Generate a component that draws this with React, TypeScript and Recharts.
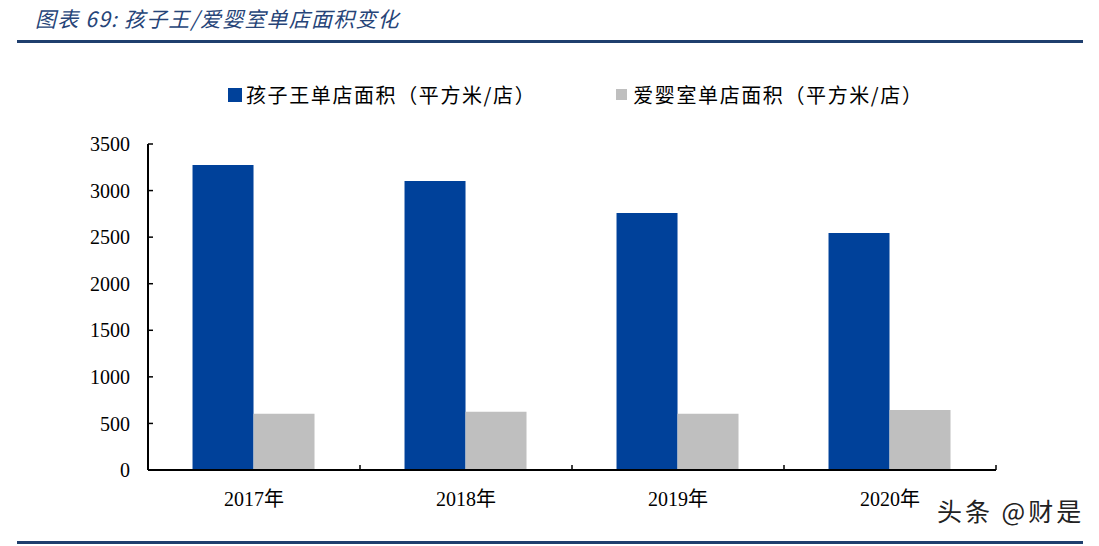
import { BarChart, Bar, XAxis, YAxis } from 'recharts';

// 单店面积（平方米/店）
const years = ['2017年', '2018年', '2019年', '2020年'];
const kidswantArea = [3275, 3103, 2760, 2545];
const aiyingshiArea = [604, 625, 604, 644];
const yTicks = [0, 500, 1000, 1500, 2000, 2500, 3000, 3500];

const seriesNames = ['孩子王单店面积（平方米/店）', '爱婴室单店面积（平方米/店）'];
const seriesColors = ['#00419A', '#BFBFBF'];

const data = years.map((year, i) => ({
  year,
  kidswant: kidswantArea[i],
  aiyingshi: aiyingshiArea[i],
}));

const serif = "'Liberation Serif', 'DejaVu Serif', 'Noto Sans CJK SC', serif";
const cjk = "'Noto Sans CJK SC', sans-serif";
const labelGap = 22;

function LegendBox() {
  return (
    <div
      style={{
        position: 'absolute',
        left: 228,
        top: 80,
        display: 'flex',
        alignItems: 'center',
        fontFamily: cjk,
        fontSize: 20,
        color: '#000',
        whiteSpace: 'nowrap',
      }}
    >
      {seriesNames.map((name, i) => (
        <div key={name} style={{ display: 'flex', alignItems: 'center', marginLeft: i === 0 ? 0 : 80 }}>
          <span
            style={{
              display: 'inline-block',
              width: i === 0 ? 14 : 11,
              height: i === 0 ? 14 : 11,
              background: seriesColors[i],
              marginRight: i === 0 ? 4 : 6,
            }}
          />
          <span style={{ letterSpacing: 1.6 }}>{name}</span>
        </div>
      ))}
    </div>
  );
}

// category label plus the small upward ticks at the band edges
function YearTick(props: any) {
  const { x, y, payload, index, visibleTicksCount, width } = props;
  const half = payload.offset ?? width / visibleTicksCount / 2;
  const axisY = y - labelGap;
  const isLast = index === visibleTicksCount - 1;
  return (
    <g>
      <line x1={x - half} x2={x - half} y1={axisY} y2={axisY - 5} stroke="#000" strokeWidth={1.5} />
      {isLast && <line x1={x + half} x2={x + half} y1={axisY} y2={axisY - 5} stroke="#000" strokeWidth={1.5} />}
      <text x={x} y={y} dy="0.71em" textAnchor="middle" fill="#000" fontSize={20} fontFamily={serif}>
        {payload.value}
      </text>
    </g>
  );
}

export default function App() {
  return (
    <div style={{ position: 'absolute', left: 0, top: 0, width: 1099, height: 546, background: '#fff', overflow: 'hidden' }}>
      <div
        style={{
          position: 'absolute',
          left: 35,
          top: 3,
          fontFamily: cjk,
          fontStyle: 'italic',
          fontSize: 21,
          letterSpacing: 1.2,
          color: '#264478',
          whiteSpace: 'nowrap',
        }}
      >
        图表 69: 孩子王/爱婴室单店面积变化
      </div>
      <div style={{ position: 'absolute', left: 17, top: 40, width: 1066, height: 2.5, background: '#1F3F6E' }} />

      <LegendBox />

      <div style={{ position: 'absolute', left: 0, top: 0 }}>
        <BarChart
          width={1099}
          height={546}
          data={data}
          margin={{ top: 144, right: 103, left: 88, bottom: 36 }}
          barCategoryGap="21%"
          barGap={0}
        >
          <XAxis
            dataKey="year"
            axisLine={{ stroke: '#000', strokeWidth: 2 }}
            tickLine={false}
            tickSize={0}
            tickMargin={labelGap}
            height={40}
            interval={0}
            tick={<YearTick />}
          />
          <YAxis
            domain={[0, 3500]}
            ticks={yTicks}
            width={60}
            axisLine={{ stroke: '#000', strokeWidth: 2 }}
            tickLine={{ stroke: '#000', strokeWidth: 1.5 }}
            tickSize={-5}
            tickMargin={23}
            tick={{ fill: '#000', fontSize: 20, fontFamily: serif }}
            interval={0}
          />
          <Bar dataKey="kidswant" name={seriesNames[0]} fill={seriesColors[0]} isAnimationActive={false} />
          <Bar dataKey="aiyingshi" name={seriesNames[1]} fill={seriesColors[1]} isAnimationActive={false} />
        </BarChart>
      </div>

      <div
        style={{
          position: 'absolute',
          left: 937,
          top: 492,
          fontFamily: cjk,
          fontSize: 25,
          letterSpacing: 3,
          color: '#222',
          whiteSpace: 'nowrap',
        }}
      >
        头条 @财是
      </div>
      <div style={{ position: 'absolute', left: 17, top: 541, width: 1066, height: 2.5, background: '#1F3F6E' }} />
    </div>
  );
}
